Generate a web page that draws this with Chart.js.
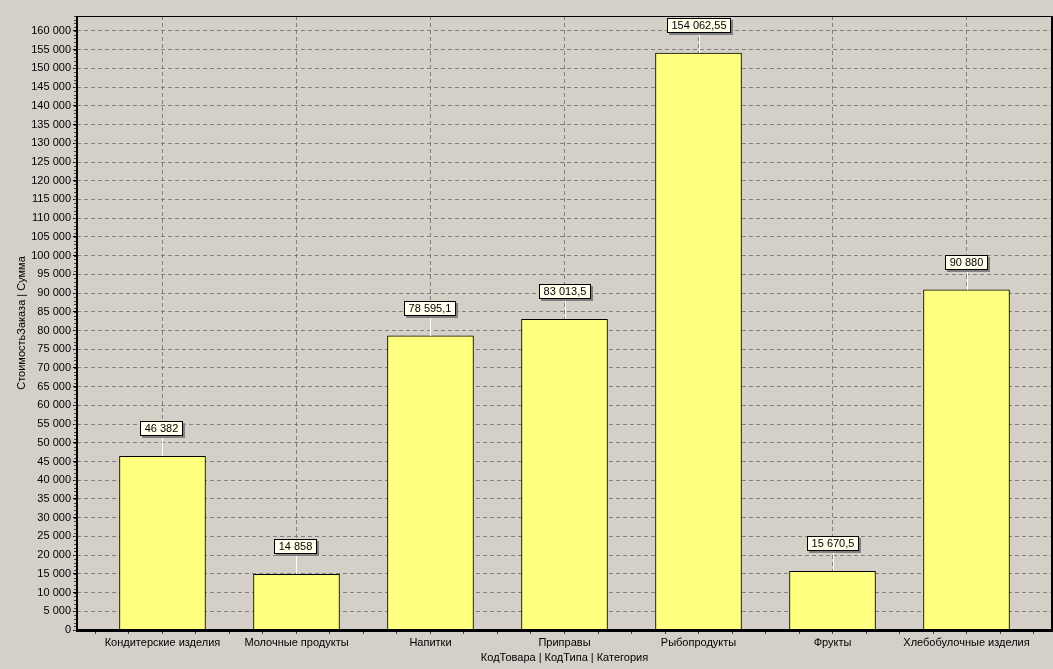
<!DOCTYPE html>
<html><head><meta charset="utf-8">
<script src="https://cdn.jsdelivr.net/npm/chart.js@4/dist/chart.umd.min.js"></script>
<style>html,body{margin:0;padding:0;background:#d4d0c8;overflow:hidden}canvas{display:block}</style>
</head><body>
<canvas id="c" width="1053" height="669"></canvas>
<script>
const categories = ['Кондитерские изделия', 'Молочные продукты', 'Напитки', 'Приправы', 'Рыбопродукты', 'Фрукты', 'Хлебобулочные изделия'];
const values = [46382, 14858, 78595.1, 83013.5, 154062.55, 15670.5, 90880];
const yTickStep = 5000;
const yTickLast = 160000;
const yMinorStep = 1000;
const yMax = 164000;
const xTitle = 'КодТовара | КодТипа | Категория';
const yTitle = 'СтоимостьЗаказа | Сумма';

function fmt(v) {
  const neg = v < 0; v = Math.abs(v);
  let parts = String(Math.round(v * 100) / 100).split('.');
  let i = parts[0].replace(/\B(?=(\d{3})+(?!\d))/g, ' ');
  return (neg ? '-' : '') + i + (parts[1] ? ',' + parts[1] : '');
}

const FONT = '"Liberation Sans", Arial, sans-serif';
Chart.defaults.font.family = FONT;
Chart.defaults.font.size = 11;
Chart.defaults.color = '#000';

const decor = {
  id: 'decor',
  beforeDraw(chart) {
    const { ctx, width, height } = chart;
    ctx.save();
    ctx.fillStyle = '#d4d0c8';
    ctx.fillRect(0, 0, width, height);
    ctx.restore();
  },
  afterDatasetsDraw(chart) {
    const { ctx, chartArea: a } = chart;
    const ys = chart.scales.y;
    ctx.save();
    // frame
    ctx.fillStyle = '#000';
    ctx.fillRect(a.left, a.top, a.right - a.left, 1);
    ctx.fillRect(a.right - 1, a.top, 2, a.bottom - a.top);
    ctx.fillRect(a.left - 1, a.top, 2, a.bottom - a.top + 2);
    ctx.fillRect(a.left - 1, a.bottom - 1, a.right - a.left + 2, 3);
    // minor y ticks
    ctx.fillStyle = '#404040';
    for (let v = 0; v <= ys.max; v += yMinorStep) {
      const y = Math.round(ys.getPixelForValue(v));
      ctx.fillRect(a.left - 3, y, 2, 1);
    }
    // value labels
    ctx.font = '11px ' + FONT;
    const meta = chart.getDatasetMeta(0);
    meta.data.forEach((bar, i) => {
      const txt = fmt(values[i]);
      const w = Math.round(ctx.measureText(txt).width) + 9;
      const h = 15;
      const cx = Math.round(bar.x);
      const top = Math.round(bar.y);
      const bx = cx - Math.round(w / 2), by = top - 20 - h;
      ctx.fillStyle = '#ffffff';
      ctx.fillRect(cx, by + h, 1, top - by - h);
      ctx.fillStyle = '#808080';
      ctx.fillRect(bx + 2, by + 2, w, h);
      ctx.fillStyle = '#ffffec';
      ctx.fillRect(bx, by, w, h);
      ctx.strokeStyle = '#000';
      ctx.lineWidth = 1;
      ctx.strokeRect(bx + 0.5, by + 0.5, w - 1, h - 1);
      ctx.fillStyle = '#000';
      ctx.textAlign = 'center';
      ctx.textBaseline = 'middle';
      ctx.fillText(txt, bx + w / 2, by + h / 2 + 0.5);
    });
    ctx.restore();
  }
};

new Chart(document.getElementById('c'), {
  type: 'bar',
  data: {
    datasets: [{
      data: values.map((v, i) => ({ x: i, y: v })),
      backgroundColor: '#ffff80',
      borderColor: '#000',
      borderWidth: 1,
      barThickness: 86
    }]
  },
  options: {
    responsive: false,
    animation: false,
    layout: { padding: { left: 0, top: 16, right: 1, bottom: 0 } },
    plugins: { legend: { display: false }, tooltip: { enabled: false } },
    scales: {
      x: {
        type: 'linear', min: -0.638, max: categories.length - 1 + 0.638, offset: false,
        afterBuildTicks(scale) {
          const t = [];
          for (let k = 0; k <= categories.length * 4; k++) t.push({ value: -0.5 + k * 0.25 });
          scale.ticks = t;
        },
        afterFit(scale) { scale.height = 39; },
        ticks: {
          autoSkip: false, maxRotation: 0, minRotation: 0, padding: 2, color: '#000',
          callback: (v) => Number.isInteger(v) ? categories[v] : ''
        },
        grid: {
          offset: false,
          color: (c) => (c.tick && Number.isInteger(c.tick.value)) ? '#808080' : 'rgba(0,0,0,0)',
          tickColor: '#404040', tickLength: 4, lineWidth: 1
        },
        border: { display: false, dash: [4, 3] },
        title: { display: true, text: xTitle, color: '#000', padding: { top: 0, bottom: 4 } }
      },
      y: {
        type: 'linear', min: 0, max: yMax,
        afterBuildTicks(scale) {
          const t = [];
          for (let v = 0; v <= yTickLast; v += yTickStep) t.push({ value: v });
          scale.ticks = t;
        },
        afterFit(scale) { scale.width = 77; },
        ticks: { autoSkip: false, padding: 2, color: '#000', callback: (v) => fmt(v) },
        grid: { offset: false, color: '#808080', tickColor: '#000', tickLength: 4, lineWidth: 1 },
        border: { display: false, dash: [4, 3] },
        title: { display: true, text: yTitle, color: '#000', padding: { top: 15, bottom: 0 } }
      }
    }
  },
  plugins: [decor]
});
</script>
</body></html>
